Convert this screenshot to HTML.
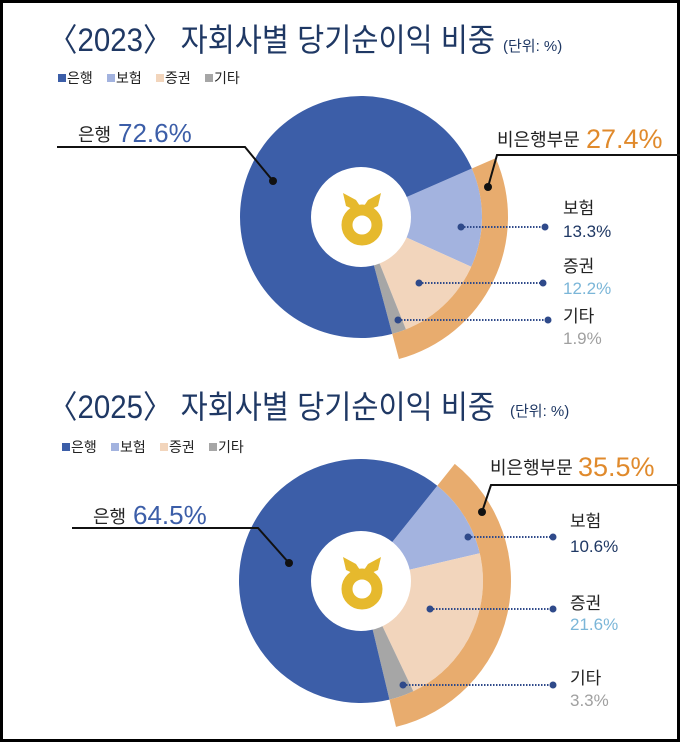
<!DOCTYPE html>
<html><head><meta charset="utf-8">
<style>
html,body{margin:0;padding:0;background:#fff;}
svg{display:block;}
text{font-family:"Liberation Sans","Noto Sans CJK KR",sans-serif;}
</style></head>
<body>
<svg id="s" width="680" height="742" viewBox="0 0 680 742" xmlns="http://www.w3.org/2000/svg">
<rect x="1.5" y="1.5" width="677" height="739" fill="#fff" stroke="#000" stroke-width="3"/>
<g id="c1"></g><g id="c2"></g>

<!-- Chart 1 text -->
<text x="48" y="51" font-size="32" fill="#1f3864" textLength="447" lengthAdjust="spacingAndGlyphs">〈2023〉 자회사별 당기순이익 비중</text>
<text x="503" y="51" font-size="15" fill="#1f3864">(단위: %)</text>
<g font-size="14" fill="#222">
<rect x="58" y="74" width="8" height="8" fill="#3c5ea8"/><text x="67" y="83">은행</text>
<rect x="107" y="74" width="8" height="8" fill="#a3b3df"/><text x="116" y="83">보험</text>
<rect x="156" y="74" width="8" height="8" fill="#f2d5bc"/><text x="165" y="83">증권</text>
<rect x="205" y="74" width="8" height="8" fill="#a6a6a6"/><text x="214" y="83">기타</text>
</g>
<text x="78" y="141" font-size="18" fill="#222">은행</text>
<text x="118" y="142" font-size="26" fill="#3c5ea8">72.6%</text>
<polyline points="57,147 245,147 273,181" fill="none" stroke="#111" stroke-width="2"/>
<circle cx="273" cy="181" r="4" fill="#111"/>
<text x="497" y="146" font-size="18" fill="#222">비은행부문</text>
<text x="586" y="148" font-size="27" fill="#e08a2c">27.4%</text>
<polyline points="680,155 497,155 488,187" fill="none" stroke="#111" stroke-width="2"/>
<circle cx="488" cy="187" r="4" fill="#111"/>
<g font-size="17" fill="#222">
<text x="563" y="214">보험</text><text x="563" y="272">증권</text><text x="563" y="322">기타</text>
</g>
<text x="563" y="237" font-size="17" fill="#1f3864">13.3%</text>
<text x="563" y="294" font-size="17" fill="#7bb6d8">12.2%</text>
<text x="563" y="344" font-size="17" fill="#a0a0a0">1.9%</text>
<g stroke="#2f4a8a" stroke-width="2" stroke-dasharray="1.5,1.5">
<line x1="461" y1="227" x2="545" y2="227"/><line x1="419" y1="283" x2="543" y2="283"/><line x1="398" y1="320" x2="548" y2="320"/>
</g>
<g fill="#2f4a8a"><circle cx="461" cy="227" r="3.5"/><circle cx="545" cy="227" r="3.5"/><circle cx="419" cy="283" r="3.5"/><circle cx="543" cy="283" r="3.5"/><circle cx="398" cy="320" r="3.5"/><circle cx="548" cy="320" r="3.5"/></g>

<!-- Chart 2 text -->
<text x="48" y="418" font-size="32" fill="#1f3864" textLength="447" lengthAdjust="spacingAndGlyphs">〈2025〉 자회사별 당기순이익 비중</text>
<text x="510" y="416" font-size="15" fill="#1f3864">(단위: %)</text>
<g font-size="14" fill="#222">
<rect x="62" y="443" width="8" height="8" fill="#3c5ea8"/><text x="71" y="452">은행</text>
<rect x="111" y="443" width="8" height="8" fill="#a3b3df"/><text x="120" y="452">보험</text>
<rect x="160" y="443" width="8" height="8" fill="#f2d5bc"/><text x="169" y="452">증권</text>
<rect x="209" y="443" width="8" height="8" fill="#a6a6a6"/><text x="218" y="452">기타</text>
</g>
<text x="93" y="523" font-size="18" fill="#222">은행</text>
<text x="133" y="524" font-size="26" fill="#3c5ea8">64.5%</text>
<polyline points="72,528 258,528 289,563" fill="none" stroke="#111" stroke-width="2"/>
<circle cx="289" cy="563" r="4" fill="#111"/>
<text x="490" y="474" font-size="18" fill="#222">비은행부문</text>
<text x="578" y="476" font-size="27" fill="#e08a2c">35.5%</text>
<polyline points="680,485 491,485 482,512" fill="none" stroke="#111" stroke-width="2"/>
<circle cx="482" cy="512" r="4" fill="#111"/>
<g font-size="17" fill="#222">
<text x="570" y="527">보험</text><text x="570" y="609">증권</text><text x="570" y="684">기타</text>
</g>
<text x="570" y="552" font-size="17" fill="#1f3864">10.6%</text>
<text x="570" y="630" font-size="17" fill="#7bb6d8">21.6%</text>
<text x="570" y="706" font-size="17" fill="#a0a0a0">3.3%</text>
<g stroke="#2f4a8a" stroke-width="2" stroke-dasharray="1.5,1.5">
<line x1="468" y1="537" x2="553" y2="537"/><line x1="430" y1="609" x2="553" y2="609"/><line x1="403" y1="685" x2="553" y2="685"/>
</g>
<g fill="#2f4a8a"><circle cx="468" cy="537" r="3.5"/><circle cx="553" cy="537" r="3.5"/><circle cx="430" cy="609" r="3.5"/><circle cx="553" cy="609" r="3.5"/><circle cx="403" cy="685" r="3.5"/><circle cx="553" cy="685" r="3.5"/></g>
</svg>
<script>
function pt(cx,cy,r,a){var t=a*Math.PI/180;return [cx+r*Math.sin(t),cy-r*Math.cos(t)];}
function ring(cx,cy,r0,r1,a0,a1){
 var L=(a1-a0)>180?1:0;var p=pt(cx,cy,r1,a0),q=pt(cx,cy,r1,a1);
 if(r0==0){return "M"+cx+","+cy+" L"+p+" A"+r1+","+r1+" 0 "+L+" 1 "+q+"Z";}
 var u=pt(cx,cy,r0,a1),v=pt(cx,cy,r0,a0);
 return "M"+p+" A"+r1+","+r1+" 0 "+L+" 1 "+q+" L"+u+" A"+r0+","+r0+" 0 "+L+" 0 "+v+"Z";}
function chart(id,cx,cy,R,Ro,start,vals){
 var g=document.getElementById(id),cols=["#a3b3df","#f2d5bc","#a6a6a6","#3c5ea8"],h="";
 var a=start,ends=[a];
 for(var i=0;i<4;i++){var b=a+vals[i]*3.6;if(i==3)b=start+360-0.001;h+='<path d="'+ring(cx,cy,0,R,a,b)+'" fill="'+cols[i]+'"/>';a=b;ends.push(b);}
 h+='<path d="'+ring(cx,cy,R,Ro,start,ends[3])+'" fill="#e8ac6e"/>';
 h+='<circle cx="'+cx+'" cy="'+cy+'" r="50" fill="#fff"/>';
 var lx=cx+1,ly=cy;
 h+='<ellipse cx="'+lx+'" cy="'+(ly+8)+'" rx="15" ry="15" fill="none" stroke="#e6b92d" stroke-width="11"/>';
 h+='<path d="M'+(lx-19)+','+(ly-24)+' L'+(lx-6)+','+(ly-17)+' L'+lx+','+(ly-8)+' L'+(lx+6)+','+(ly-17)+' L'+(lx+19)+','+(ly-24)+' L'+(lx+16)+','+(ly-11)+' L'+(lx+5)+','+(ly-6)+' L'+lx+','+(ly-3)+' L'+(lx-5)+','+(ly-6)+' L'+(lx-16)+','+(ly-11)+'Z" fill="#e6b92d"/>';
 g.innerHTML=h;}
chart("c1",361,217,121,147,66.4,[13.3,12.2,1.9,72.6]);
chart("c2",361,581,122,150,38.7,[10.6,21.6,3.3,64.5]);
</script>
</body></html>
